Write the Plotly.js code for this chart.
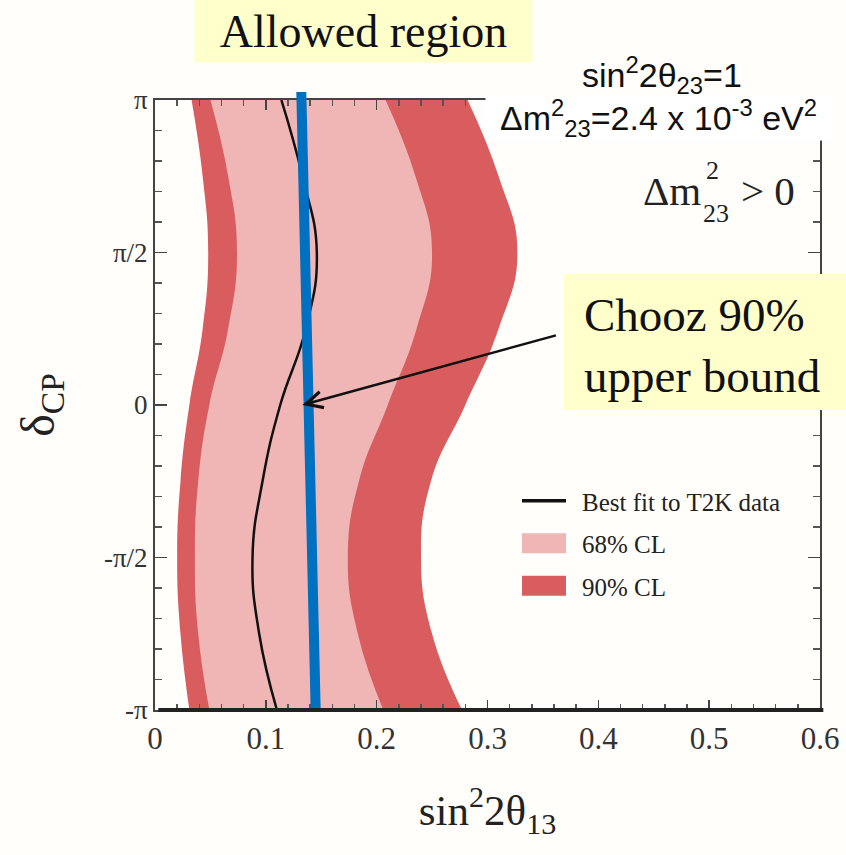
<!DOCTYPE html>
<html>
<head>
<meta charset="utf-8">
<script src="https://cdn.plot.ly/plotly-3.0.1.min.js"></script>
<style>html,body{margin:0;padding:0;background:#fffefa;}</style>
</head>
<body>
<div id="chart" style="width:846px;height:855px;"></div>
<script>
const PI = Math.PI;
// delta_CP sample points (top to bottom)
const deltaCP = [PI, 3*PI/4, PI/2, PI/4, 0, -PI/4, -PI/2, -3*PI/4, -PI];
// sin^2 2theta13 boundaries
const cl90Left  = [0.033, 0.043, 0.048, 0.043, 0.031, 0.023, 0.020, 0.023, 0.031];
const cl68Left  = [0.050, 0.066, 0.074, 0.066, 0.049, 0.039, 0.036, 0.039, 0.049];
const bestFit   = [0.114, 0.133, 0.146, 0.136, 0.113, 0.097, 0.088, 0.094, 0.110];
const cl68Right = [0.208, 0.235, 0.250, 0.236, 0.210, 0.184, 0.174, 0.183, 0.206];
const cl90Right = [0.282, 0.310, 0.327, 0.310, 0.280, 0.249, 0.240, 0.250, 0.277];
// Chooz 90% upper bound (drawn as a thick blue line): x at bottom, x at top
const choozX = [0.145, 0.132];
// tick labels
const yTickVals = [-PI, -PI/2, 0, PI/2, PI];
const yTickText = ['-π', '-π/2', '0', 'π/2', 'π'];
const xTickVals = [0, 0.1, 0.2, 0.3, 0.4, 0.5, 0.6];
const xTickText = ['0', '0.1', '0.2', '0.3', '0.4', '0.5', '0.6'];

const DARK = '#d95c5e';
const LIGHT = '#efb6b5';
const SERIF = 'Liberation Serif, Times New Roman, serif';
const SANS = 'Liberation Sans, Arial, sans-serif';

const edge90 = {width: 0, color: DARK, shape: 'spline', smoothing: 1.3};
const edge68 = {width: 0, color: LIGHT, shape: 'spline', smoothing: 1.3};
const traces = [
  {x: cl90Left, y: deltaCP, mode: 'lines', line: edge90, showlegend: false, hoverinfo: 'skip', legendgroup: 'a', legendrank: 3},
  {x: cl90Right, y: deltaCP, mode: 'lines', line: edge90, fill: 'tonextx', fillcolor: DARK, name: '90% CL', legendgroup: 'a', legendrank: 3},
  {x: cl68Left, y: deltaCP, mode: 'lines', line: edge68, showlegend: false, hoverinfo: 'skip', legendgroup: 'b', legendrank: 2},
  {x: cl68Right, y: deltaCP, mode: 'lines', line: edge68, fill: 'tonextx', fillcolor: LIGHT, name: '68% CL', legendgroup: 'b', legendrank: 2},
  {x: bestFit, y: deltaCP, mode: 'lines', line: {width: 2.5, color: '#111', shape: 'spline', smoothing: 1.3}, name: 'Best fit to T2K data', legendgroup: 'c', legendrank: 1}
];

// helpers to convert picture pixels to paper coordinates
const L = 155, R = 820, T = 100, B = 710;
const px = v => (v - L) / (R - L);
const py = v => (B - v) / (B - T);

const layout = {
  width: 846, height: 855,
  margin: {l: 155, r: 26, t: 100, b: 145},
  paper_bgcolor: '#fffefa',
  plot_bgcolor: '#fffefa',
  showlegend: true,
  legend: {
    x: px(522), y: py(478), xanchor: 'left', yanchor: 'top',
    traceorder: 'grouped', tracegroupgap: 7,
    font: {family: SERIF, size: 25, color: '#222'},
    bgcolor: 'rgba(0,0,0,0)', itemwidth: 50
  },
  xaxis: {
    range: [0, 0.6], tickvals: xTickVals, ticktext: xTickText,
    ticks: 'inside', ticklen: 10, tickwidth: 1.5, tickcolor: '#444',
    showline: true, linecolor: '#444', linewidth: 2, mirror: 'ticks',
    showgrid: false, zeroline: false,
    minor: {tickmode: 'linear', tick0: 0, dtick: 0.02, ticks: 'inside', ticklen: 6, tickcolor: '#555', showgrid: false},
    tickfont: {family: SERIF, size: 31, color: '#333'},
    title: {text: 'sin<sup>2</sup>2θ<sub>13</sub>', font: {family: SERIF, size: 43, color: '#222'}, standoff: 40}
  },
  yaxis: {
    range: [-PI, PI], tickvals: yTickVals, ticktext: yTickText,
    ticks: 'inside', ticklen: 12, tickwidth: 1.5, tickcolor: '#444',
    showline: true, linecolor: '#444', linewidth: 2, mirror: 'ticks',
    showgrid: false, zeroline: false,
    minor: {tickmode: 'linear', tick0: 0, dtick: PI/10, ticks: 'inside', ticklen: 7, tickcolor: '#555', showgrid: false},
    tickfont: {family: SERIF, size: 27, color: '#333'},
    title: {text: 'δ<sub>CP</sub>', font: {family: SERIF, size: 48, color: '#222'}, standoff: 34}
  },
  shapes: [
    {type: 'line', xref: 'x', yref: 'paper', x0: choozX[0], y0: py(712), x1: choozX[1], y1: py(92),
     line: {color: '#0070c0', width: 10}, layer: 'above'},
    {type: 'line', xref: 'paper', yref: 'paper', x0: 0.005, x1: 1.005, y0: 0, y1: 0,
     line: {color: '#222', width: 4}, layer: 'above'},
    {type: 'rect', xref: 'paper', yref: 'paper', x0: px(564), x1: px(846), y0: py(410), y1: py(274),
     fillcolor: '#ffffcc', line: {width: 0}, layer: 'above'}
  ],
  annotations: [
    {xref: 'paper', yref: 'paper', x: px(363), y: py(31), xanchor: 'center', yanchor: 'middle',
     text: 'Allowed region', showarrow: false, bgcolor: '#ffffcc', width: 337, height: 62, borderpad: 0,
     font: {family: SERIF, size: 46, color: '#111'}},
    {xref: 'x', yref: 'y', x: 0.133, y: 0, ax: 255, ay: -70, axref: 'pixel', ayref: 'pixel',
     showarrow: true, arrowhead: 5, arrowsize: 1.3, arrowwidth: 2.5, arrowcolor: '#111', text: ''},
    {xref: 'paper', yref: 'paper', x: px(582), y: py(345), xanchor: 'left', yanchor: 'middle',
     text: 'Chooz 90%<br>upper bound', showarrow: false, align: 'left',
     font: {family: SERIF, size: 47, color: '#111'}},
    {xref: 'paper', yref: 'paper', x: px(662), y: py(75), xanchor: 'center', yanchor: 'middle',
     text: 'sin<sup>2</sup>2θ<sub>23</sub>=1', showarrow: false,
     font: {family: SANS, size: 34, color: '#111'}},
    {xref: 'paper', yref: 'paper', x: px(658), y: py(118), xanchor: 'center', yanchor: 'middle',
     text: 'Δm<sup>2</sup><sub>23</sub>=2.4 x 10<sup>-3</sup> eV<sup>2</sup>', showarrow: false,
     bgcolor: '#ffffff', width: 345, height: 44, borderpad: 0,
     font: {family: SANS, size: 34, color: '#111'}},
    {xref: 'paper', yref: 'paper', x: px(703), y: py(191), xanchor: 'right', yanchor: 'middle',
     text: 'Δm', showarrow: false, font: {family: SERIF, size: 41, color: '#222'}},
    {xref: 'paper', yref: 'paper', x: px(704), y: py(170), xanchor: 'left', yanchor: 'middle',
     text: '2', showarrow: false, font: {family: SERIF, size: 26, color: '#222'}},
    {xref: 'paper', yref: 'paper', x: px(701), y: py(213), xanchor: 'left', yanchor: 'middle',
     text: '23', showarrow: false, font: {family: SERIF, size: 26, color: '#222'}},
    {xref: 'paper', yref: 'paper', x: px(739), y: py(191), xanchor: 'left', yanchor: 'middle',
     text: '> 0', showarrow: false, font: {family: SERIF, size: 41, color: '#222'}}
  ]
};

Plotly.newPlot('chart', traces, layout, {displayModeBar: false, staticPlot: true}).then(function (gd) {
  // reshape legend keys into the reference's 48px-wide block keys, shifted to start at the same place
  const SHIFT = -9, W = 48;
  gd.querySelectorAll('.legend .legendfill path').forEach(function (p) {
    const bb = p.getBBox();
    if (bb.width > 0) p.setAttribute('d', 'M' + (bb.x + SHIFT) + ',-10h' + W + 'v20h' + (-W) + 'z');
  });
  gd.querySelectorAll('.legend .legendlines path').forEach(function (p) {
    const sw = parseFloat(p.style.strokeWidth || '0');
    if (sw > 0) {
      const bb = p.getBBox();
      p.setAttribute('d', 'M' + (bb.x + SHIFT) + ',0h' + W);
      p.style.strokeWidth = '3.5px';
    } else {
      p.style.display = 'none';
    }
  });
});
</script>
</body>
</html>
